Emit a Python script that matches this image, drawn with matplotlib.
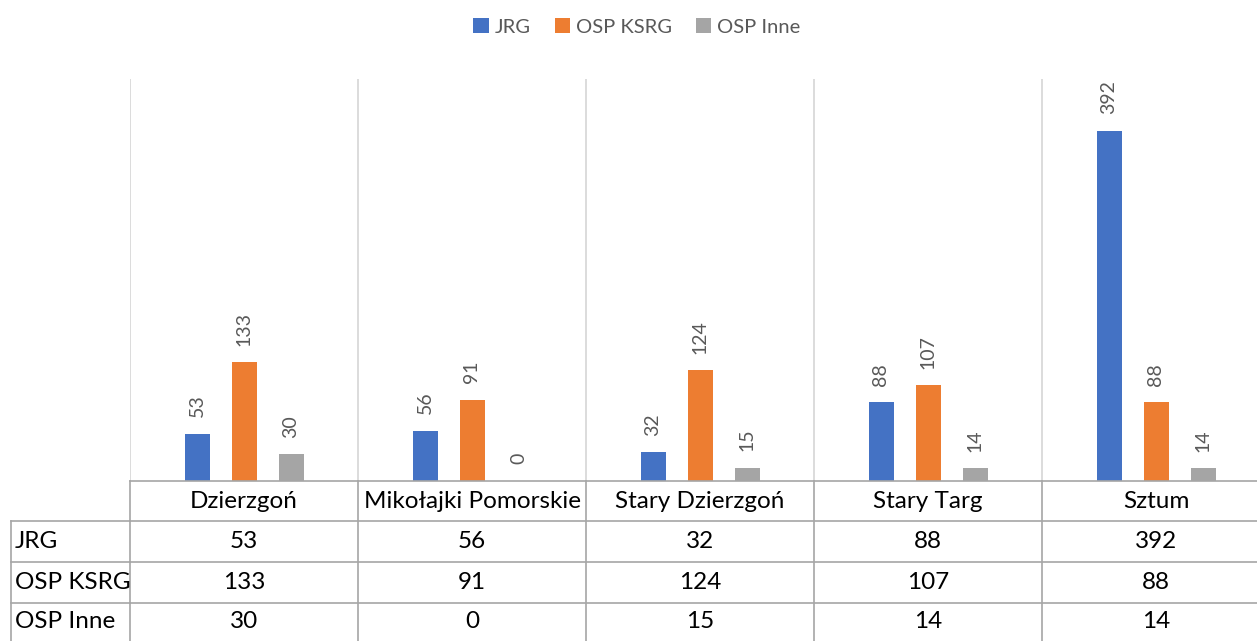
import matplotlib
matplotlib.use("Agg")
import matplotlib.pyplot as plt
from matplotlib.lines import Line2D
from matplotlib.transforms import blended_transform_factory

categories = ["Dzierzgoń", "Mikołajki Pomorskie", "Stary Dzierzgoń", "Stary Targ", "Sztum"]
series_names = ["JRG", "OSP KSRG", "OSP Inne"]
jrg = [53, 56, 32, 88, 392]
osp_ksrg = [133, 91, 124, 107, 88]
osp_inne = [30, 0, 15, 14, 14]
series_values = [jrg, osp_ksrg, osp_inne]
colors = ["#4472C4", "#ED7D31", "#A5A5A5"]

plt.rcParams['font.family'] = ['Lato', 'DejaVu Sans']

W, H = 1257, 641
fig = plt.figure(figsize=(W / 100, H / 100), dpi=100)


def fx(px):
    return px / W


def fy(py):
    return 1 - py / H


# plot area (right part is cropped in the reference)
ax = fig.add_axes([fx(130), fy(481), (1270 - 130) / W, (481 - 79) / H])
ax.set_xlim(-0.5, len(categories) - 0.5)
ax.set_ylim(0, 450)
for s in ax.spines.values():
    s.set_visible(False)
ax.set_xticks([])
ax.set_yticks([])

for b in range(len(categories) + 1):
    ax.axvline(b - 0.5, color="#d9d9d9", lw=1.3, zorder=0)

bw = 25 / 228
step = 47 / 228
bars = []
for i, (vals, col) in enumerate(zip(series_values, colors)):
    xs = [c + (i - 1) * step for c in range(len(categories))]
    bc = ax.bar(xs, vals, width=bw, color=col, label=series_names[i], zorder=2)
    bars.append(bc)
    for x, v in zip(xs, vals):
        ax.annotate(str(v), (x, v), xytext=(0, 12), textcoords="offset points",
                    rotation=90, ha="center", va="bottom", color="#595959",
                    fontsize=14)

# legend
fig.legend(handles=bars, labels=series_names, loc="center",
           bbox_to_anchor=(fx(637), fy(27)), ncol=3, frameon=False,
           fontsize=14.5, handlelength=0.75, handleheight=0.75,
           handletextpad=0.3, columnspacing=1.2, labelcolor="#595959")

# data table
tr = blended_transform_factory(ax.transData, fig.transFigure)
line_col = "#a6a6a6"
lw = 1.2
row_y = [481, 521, 562, 603, 660]
xmin_d = -0.5
xmax_d = len(categories) - 0.5
# horizontal lines
fig.add_artist(Line2D([xmin_d, xmax_d], [fy(481), fy(481)], transform=tr, color=line_col, lw=lw))
for y in row_y[1:4]:
    fig.add_artist(Line2D([fx(11), fx(130)], [fy(y), fy(y)], transform=fig.transFigure, color=line_col, lw=lw))
    fig.add_artist(Line2D([xmin_d, xmax_d], [fy(y), fy(y)], transform=tr, color=line_col, lw=lw))
# vertical lines
for b in range(len(categories) + 1):
    fig.add_artist(Line2D([b - 0.5, b - 0.5], [fy(481), fy(660)], transform=tr, color=line_col, lw=lw))
fig.add_artist(Line2D([fx(11), fx(11)], [fy(521), fy(660)], transform=fig.transFigure, color=line_col, lw=lw))

tfs = 17.5
for c, name in enumerate(categories):
    fig.text(c, fy((481 + 521) / 2), name, transform=tr, ha="center", va="center",
             fontsize=tfs, color="black")
for r, (sname, vals) in enumerate(zip(series_names, series_values)):
    yc = fy((row_y[r + 1] + row_y[r + 2]) / 2) if r < 2 else fy((603 + 641) / 2)
    fig.text(fx(15), yc, sname, ha="left", va="center", fontsize=tfs, color="black")
    for c, v in enumerate(vals):
        fig.text(c, yc, str(v), transform=tr, ha="center", va="center",
                 fontsize=tfs, color="black")

fig.savefig("out.png", dpi=100)
